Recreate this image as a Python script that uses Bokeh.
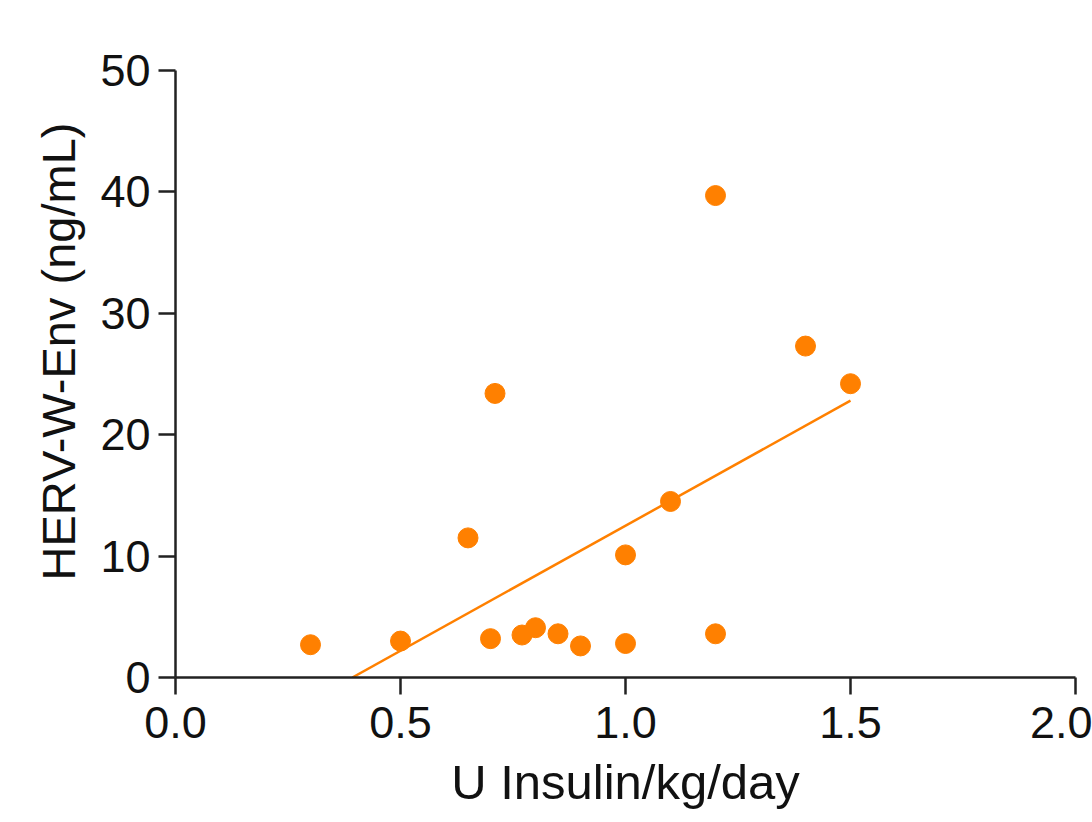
from bokeh.plotting import figure
from bokeh.models import Range1d, FixedTicker, Title
from bokeh.embed import file_html
from bokeh.resources import INLINE

# Data
insulin = [0.30, 0.50, 0.65, 0.70, 0.71, 0.77, 0.80, 0.85, 0.90, 1.00, 1.00, 1.10, 1.20, 1.20, 1.40, 1.50]
herv = [2.7, 3.0, 11.5, 3.2, 23.4, 3.5, 4.1, 3.6, 2.6, 10.1, 2.8, 14.5, 39.7, 3.6, 27.3, 24.2]

# Regression line endpoints
fit_x = [0.393, 1.50]
fit_y = [0.0, 22.8]

x_ticks = [0.0, 0.5, 1.0, 1.5, 2.0]
y_ticks = [0, 10, 20, 30, 40, 50]

x_title = "U Insulin/kg/day"
y_title = "HERV-W-Env (ng/mL)"

ORANGE = "#FF8000"
AXIS = "#222222"
FONT = "Liberation Sans"

p = figure(width=1092, height=822, output_backend="svg", toolbar_location=None,
           x_range=Range1d(0, 2.0), y_range=Range1d(0, 50),
           min_border_left=175, min_border_right=17, min_border_top=70, min_border_bottom=145)
p.outline_line_color = None
p.xgrid.grid_line_color = None
p.ygrid.grid_line_color = None
p.background_fill_color = "white"
p.border_fill_color = "white"

p.line(fit_x, fit_y, line_color=ORANGE, line_width=2.5)
p.scatter(insulin, herv, size=20, fill_color=ORANGE, line_color=ORANGE)

for ax in (p.xaxis[0], p.yaxis[0]):
    ax.axis_line_color = AXIS
    ax.axis_line_width = 2.5
    ax.major_tick_line_color = AXIS
    ax.major_tick_line_width = 2.5
    ax.major_tick_out = 17
    ax.major_tick_in = 0
    ax.minor_tick_line_color = None
    ax.major_label_text_font = FONT
    ax.major_label_text_font_size = "45px"
    ax.major_label_text_color = "#111111"
    ax.axis_label_text_font = FONT
    ax.axis_label_text_font_style = "normal"
    ax.axis_label_text_color = "#111111"

p.xaxis[0].axis_label_text_font_size = "49px"
p.xaxis[0].ticker = FixedTicker(ticks=x_ticks)
p.yaxis[0].ticker = FixedTicker(ticks=y_ticks)
p.xaxis[0].major_label_overrides = {t: f"{t:.1f}" for t in x_ticks}
p.yaxis[0].major_label_overrides = {t: f"{t}" for t in y_ticks}
p.xaxis[0].major_label_standoff = 12
p.yaxis[0].major_label_standoff = 8
p.xaxis[0].axis_label = x_title
p.xaxis[0].axis_label_standoff = 14

# y-axis title, starting a little above the frame bottom as in the reference
ytitle = Title(text=y_title, align="left", offset=97, standoff=26,
               text_font=FONT, text_font_size="47px", text_font_style="normal",
               text_color="#111111")
p.add_layout(ytitle, "left")

open("out.html", "w").write(file_html(p, INLINE))
